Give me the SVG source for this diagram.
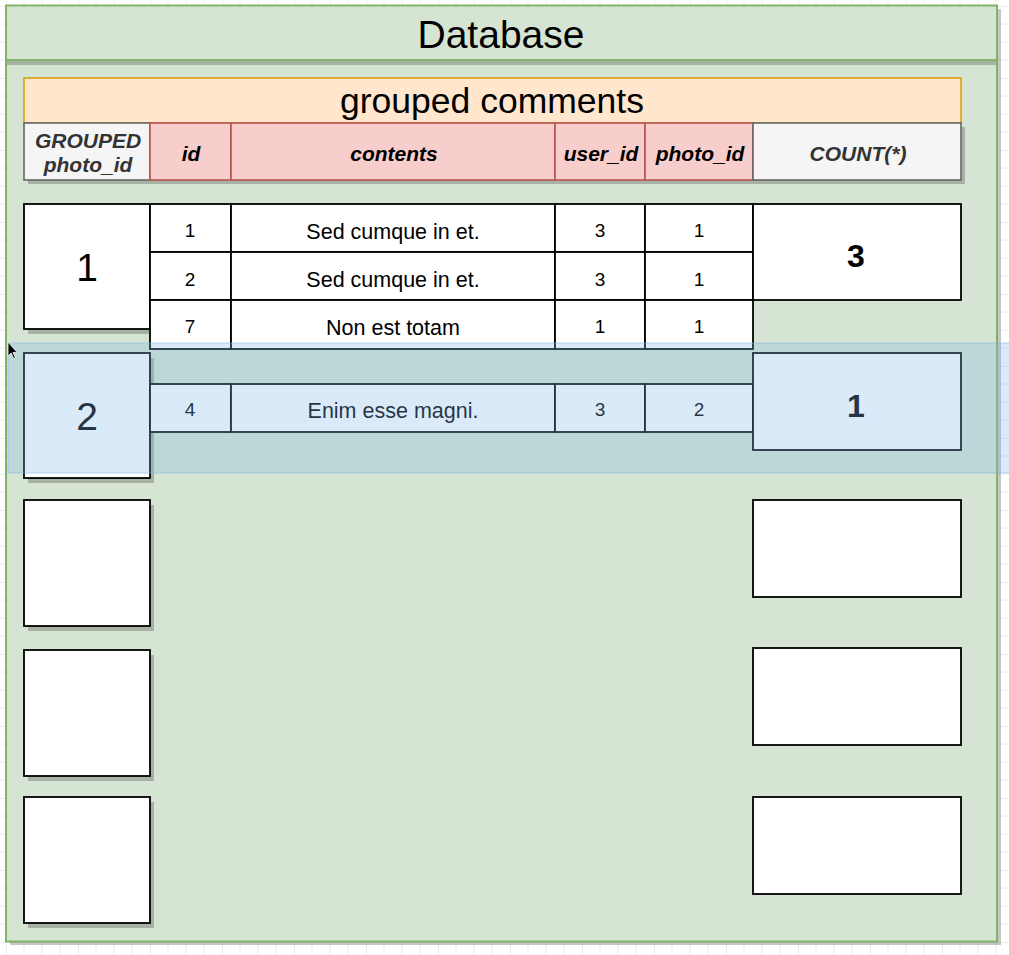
<svg xmlns="http://www.w3.org/2000/svg" width="1009" height="955" viewBox="0 0 1009 955">
<style>
  text { font-family: "Liberation Sans", Arial, Helvetica, sans-serif; text-anchor: middle; }
  .cont { fill: #d6e5d3; stroke: #82b366; stroke-width: 2; }
  .shadow { fill: #000; opacity: 0.22; }
  .title { font-size: 39px; fill: #000; }
  .orange { fill: #ffe6cc; stroke: #d79b00; stroke-width: 1.5; }
  .sub { font-size: 35.5px; fill: #000; }
  .red { fill: #f8cecc; stroke: #b85450; stroke-width: 1.6; }
  .gray { fill: #f5f5f5; stroke: #666666; stroke-width: 1.6; }
  .hdr { font-size: 21px; font-weight: bold; font-style: italic; fill: #000; }
  .hdrg { font-size: 21px; font-weight: bold; font-style: italic; fill: #333333; }
  .cell { fill: #ffffff; stroke: #000000; stroke-width: 1.8; }
  .txt { font-size: 21.5px; fill: #000; }
  .num { font-size: 19px; fill: #000; }
  .big { font-size: 39px; fill: #000; }
  .cnt { font-size: 32px; font-weight: bold; fill: #000; }
  .band { fill: rgb(126,181,230); fill-opacity: 0.29; stroke: rgb(126,181,230); stroke-opacity: 0.45; stroke-width: 1.2; }
</style>
<defs>
  <pattern id="grid" x="6" y="6" width="72" height="72" patternUnits="userSpaceOnUse">
    <path d="M18 0V72M36 0V72M54 0V72M0 18H72M0 36H72M0 54H72" stroke="#ececec" stroke-width="1" fill="none"/>
    <path d="M0 0V72M0 0H72" stroke="#d9d9d9" stroke-width="1" fill="none"/>
  </pattern>
</defs>
<rect x="0" y="0" width="1009" height="955" fill="#ffffff"/>
<rect x="0" y="0" width="1009" height="955" fill="url(#grid)"/>

<g id="database">
  <rect class="shadow" x="10" y="9" width="991" height="936"/>
  <rect class="cont" x="6" y="5.5" width="991" height="936"/>
  <rect class="shadow" x="7" y="61" width="989" height="4"/>
  <line x1="6" y1="60" x2="997" y2="60" stroke="#82b366" stroke-width="2"/>
  <text class="title" x="501" y="48">Database</text>
</g>

<g id="grouped-comments">
  <rect class="orange" x="24" y="78" width="937" height="45"/>
  <text class="sub" x="492" y="113">grouped comments</text>
</g>

<g id="header-row">
  <rect class="shadow" x="28" y="127" width="937" height="57"/>
  <g id="h-grouped">
    <rect class="gray" x="24" y="123" width="126" height="57"/>
    <text class="hdrg" x="88" y="148">GROUPED</text>
    <text class="hdrg" x="88" y="172">photo_id</text>
  </g>
  <g id="h-id">
    <rect class="red" x="150" y="123" width="81" height="57"/>
    <text class="hdr" x="191" y="161">id</text>
  </g>
  <g id="h-contents">
    <rect class="red" x="231" y="123" width="324" height="57"/>
    <text class="hdr" x="394" y="161">contents</text>
  </g>
  <g id="h-user_id">
    <rect class="red" x="555" y="123" width="90" height="57"/>
    <text class="hdr" x="601" y="161">user_id</text>
  </g>
  <g id="h-photo_id">
    <rect class="red" x="645" y="123" width="108" height="57"/>
    <text class="hdr" x="700" y="161">photo_id</text>
  </g>
  <g id="h-count">
    <rect class="gray" x="753" y="123" width="208" height="57"/>
    <text class="hdrg" x="858" y="161">COUNT(*)</text>
  </g>
</g>

<g id="group-1">
  <rect class="shadow" x="28" y="209" width="126" height="125"/>
  <rect class="cell" x="24" y="204" width="126" height="125"/>
  <text class="big" x="87" y="281">1</text>
</g>

<g id="row-1">
  <rect class="cell" x="150" y="204" width="81" height="48"/>
  <rect class="cell" x="231" y="204" width="324" height="48"/>
  <rect class="cell" x="555" y="204" width="90" height="48"/>
  <rect class="cell" x="645" y="204" width="108" height="48"/>
  <text class="num" x="190" y="237">1</text>
  <text class="txt" x="393" y="239">Sed cumque in et.</text>
  <text class="num" x="600" y="237">3</text>
  <text class="num" x="699" y="237">1</text>
</g>
<g id="row-2">
  <rect class="cell" x="150" y="252" width="81" height="48"/>
  <rect class="cell" x="231" y="252" width="324" height="48"/>
  <rect class="cell" x="555" y="252" width="90" height="48"/>
  <rect class="cell" x="645" y="252" width="108" height="48"/>
  <text class="num" x="190" y="286">2</text>
  <text class="txt" x="393" y="287">Sed cumque in et.</text>
  <text class="num" x="600" y="286">3</text>
  <text class="num" x="699" y="286">1</text>
</g>
<g id="row-7">
  <rect class="cell" x="150" y="300" width="81" height="49"/>
  <rect class="cell" x="231" y="300" width="324" height="49"/>
  <rect class="cell" x="555" y="300" width="90" height="49"/>
  <rect class="cell" x="645" y="300" width="108" height="49"/>
  <text class="num" x="190" y="333">7</text>
  <text class="txt" x="393" y="335">Non est totam</text>
  <text class="num" x="600" y="333">1</text>
  <text class="num" x="699" y="333">1</text>
</g>
<g id="count-1">
  <rect class="cell" x="753" y="204" width="208" height="96"/>
  <text class="cnt" x="856" y="267">3</text>
</g>

<g id="group-2">
  <rect class="shadow" x="28" y="358" width="126" height="125"/>
  <rect class="cell" x="24" y="353" width="126" height="125"/>
  <text class="big" x="87" y="430">2</text>
</g>
<g id="row-4">
  <rect class="cell" x="150" y="384" width="81" height="48"/>
  <rect class="cell" x="231" y="384" width="324" height="48"/>
  <rect class="cell" x="555" y="384" width="90" height="48"/>
  <rect class="cell" x="645" y="384" width="108" height="48"/>
  <text class="num" x="190" y="416">4</text>
  <text class="txt" x="393" y="418">Enim esse magni.</text>
  <text class="num" x="600" y="416">3</text>
  <text class="num" x="699" y="416">2</text>
</g>
<g id="count-2">
  <rect class="cell" x="753" y="353" width="208" height="97"/>
  <text class="cnt" x="856" y="417">1</text>
</g>

<g id="group-3">
  <rect class="shadow" x="28" y="505" width="126" height="126"/>
  <rect class="cell" x="24" y="500" width="126" height="126"/>
</g>
<g id="group-4">
  <rect class="shadow" x="28" y="655" width="126" height="126"/>
  <rect class="cell" x="24" y="650" width="126" height="126"/>
</g>
<g id="group-5">
  <rect class="shadow" x="28" y="802" width="126" height="126"/>
  <rect class="cell" x="24" y="797" width="126" height="126"/>
</g>
<g id="count-3">
  <rect class="cell" x="753" y="500" width="208" height="97"/>
</g>
<g id="count-4">
  <rect class="cell" x="753" y="648" width="208" height="97"/>
</g>
<g id="count-5">
  <rect class="cell" x="753" y="797" width="208" height="97"/>
</g>

<g id="connectors"/>

<g id="highlight">
  <rect class="band" x="8" y="343" width="1003" height="130"/>
</g>

<g id="cursor">
  <path d="M8,342 L8,356 L11.2,353 L13.6,358.5 L15.4,357.7 L13,352.4 L17.2,352.4 Z" fill="#000" stroke="#fff" stroke-width="0.8"/>
</g>
</svg>
